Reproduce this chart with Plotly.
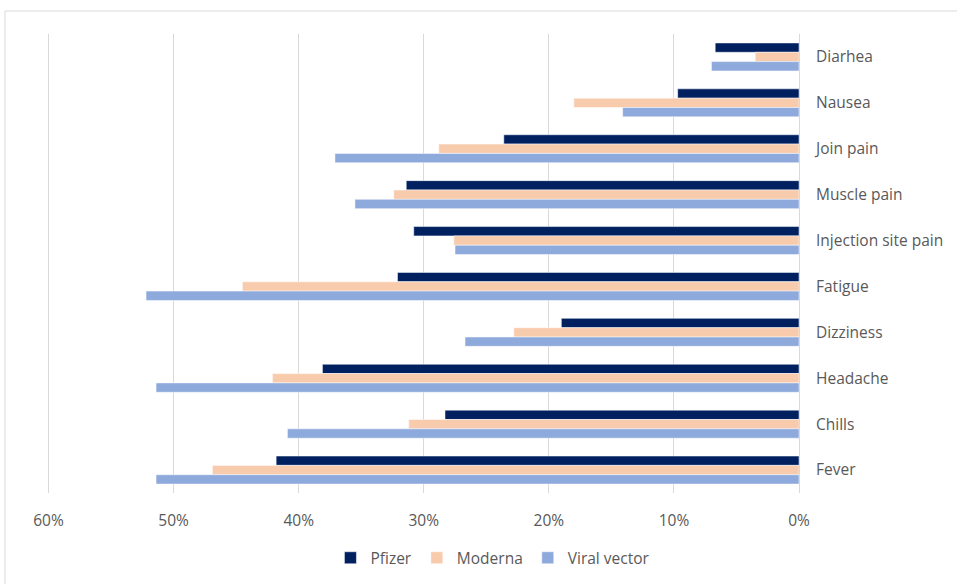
import plotly.graph_objects as go

categories = ["Diarhea", "Nausea", "Join pain", "Muscle pain", "Injection site pain",
              "Fatigue", "Dizziness", "Headache", "Chills", "Fever"]
pfizer = [6.7, 9.7, 23.6, 31.4, 30.8, 32.1, 19.0, 38.1, 28.3, 41.8]
moderna = [3.5, 18.0, 28.8, 32.4, 27.6, 44.5, 22.8, 42.1, 31.2, 46.9]
viral = [7.0, 14.1, 37.1, 35.5, 27.5, 52.2, 26.7, 51.4, 40.9, 51.4]
tick_vals = [0, 10, 20, 30, 40, 50, 60]
tick_text = ["0%", "10%", "20%", "30%", "40%", "50%", "60%"]

series = [("Pfizer", pfizer, "#002060"),
          ("Moderna", moderna, "#F8CBAD"),
          ("Viral vector", viral, "#8EA9DB")]

fig = go.Figure()
for name, vals, color in series:
    fig.add_trace(go.Bar(
        y=categories, x=vals, name=name, orientation="h",
        marker=dict(color=color, line=dict(color="white", width=0.5)),
    ))

font = dict(family="Open Sans, Liberation Sans, sans-serif", size=15.5, color="#595959")

fig.update_layout(
    width=957, height=584, autosize=False,
    margin=dict(l=47, r=158, t=34, b=91, pad=0, autoexpand=False),
    paper_bgcolor="white", plot_bgcolor="white",
    barmode="group", bargap=0.39, bargroupgap=0,
    font=font,
    showlegend=True,
    legend=dict(orientation="h", x=0.593, xanchor="center", y=-0.142, yanchor="middle",
                font=font, traceorder="normal"),
    xaxis=dict(range=[60.12, 0], tickvals=tick_vals, ticktext=tick_text, automargin=False,
               showgrid=True, gridcolor="#d9d9d9", gridwidth=1,
               zeroline=True, zerolinecolor="#d9d9d9", zerolinewidth=1,
               showline=False, ticks="", ticklabelstandoff=16, tickfont=font),
    yaxis=dict(categoryorder="array", categoryarray=categories, autorange="reversed",
               automargin=False,
               side="right", showgrid=False, showline=False, zeroline=False,
               ticks="", ticklabelstandoff=16, tickfont=font),
    shapes=[dict(type="rect", xref="paper", yref="paper",
                 x0=-0.0559, x1=1.5, y0=-0.5, y1=1.0501,
                 line=dict(color="#d9d9d9", width=1), fillcolor="rgba(0,0,0,0)",
                 layer="below")],
)

fig.write_html("out.html", config={"displayModeBar": False},
               post_script="document.body.style.margin='0';")
